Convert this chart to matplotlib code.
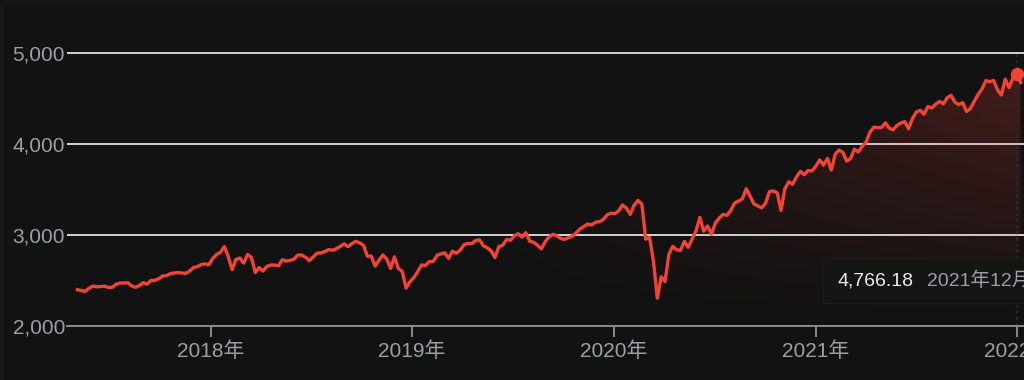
import numpy as np
import pandas as pd
import matplotlib
matplotlib.use('Agg')
import matplotlib.pyplot as plt
import matplotlib.dates as mdates
from matplotlib.colors import to_rgb
from matplotlib.patches import Rectangle
from matplotlib.ticker import FuncFormatter

plt.rcParams['font.family'] = ['Liberation Sans', 'Noto Sans CJK SC', 'DejaVu Sans']

# weekly closes, first friday 2017-05-05
start_date = '2017-05-05'
closes_2017 = [2399, 2390, 2381, 2415, 2439, 2431, 2433, 2438, 2423,
               2425, 2459, 2472, 2472, 2476, 2441, 2425, 2443,
               2476, 2461, 2500, 2502, 2519, 2549, 2553, 2575, 2581,
               2588, 2582, 2579, 2602, 2642, 2652, 2675, 2683, 2674]
closes_2018 = [2743, 2786, 2810, 2873, 2762, 2620, 2732, 2747,
               2691, 2786, 2752, 2588, 2641, 2604, 2656, 2670, 2670,
               2663, 2728, 2713, 2721, 2735, 2779, 2780, 2755, 2718,
               2760, 2801, 2802, 2819, 2840, 2833, 2850, 2875, 2902,
               2872, 2905, 2930, 2914, 2885, 2767, 2768, 2658,
               2723, 2781, 2736, 2633, 2760, 2633, 2600, 2417, 2486]
closes_2019 = [2532, 2596, 2671, 2665, 2707, 2708, 2776, 2793,
               2804, 2743, 2822, 2800, 2834, 2893, 2907, 2905, 2940,
               2946, 2881, 2860, 2826, 2752, 2873, 2887, 2950, 2942,
               2990, 3014, 2977, 3026, 2932, 2919, 2889, 2847, 2926,
               2979, 3007, 2992, 2962, 2952, 2970, 2986, 3023,
               3067, 3093, 3120, 3110, 3141, 3146, 3169, 3221, 3240]
closes_2020 = [3235, 3265, 3330, 3295, 3226, 3328, 3380, 3338, 2954,
               2972, 2711, 2305, 2541, 2489, 2790, 2875, 2837,
               2831, 2930, 2864, 2955, 3044, 3194, 3041, 3098, 3009,
               3130, 3185, 3225, 3216, 3271, 3351, 3373, 3397, 3508,
               3427, 3341, 3319, 3298, 3348, 3477, 3484, 3465, 3270,
               3509, 3585, 3558, 3638, 3699, 3663, 3709, 3703, 3756]
closes_2021 = [3825, 3768, 3841, 3714, 3887, 3934, 3907, 3811,
               3842, 3943, 3913, 3975, 4020, 4129, 4185, 4180, 4181,
               4233, 4174, 4156, 4204, 4230, 4247, 4167, 4281,
               4352, 4370, 4327, 4412, 4395, 4437, 4468, 4442, 4509,
               4535, 4459, 4433, 4455, 4357, 4391, 4471, 4545, 4605,
               4697, 4683, 4698, 4595, 4538, 4712, 4620, 4726, 4766]
closes_2022 = [4677]

last_value = 4766.18
last_date = '2021-12-31'
tooltip_value = '4,766.18'
tooltip_date = '2021年12月31日'
years = [2018, 2019, 2020, 2021, 2022]
y_ticks = [2000, 3000, 4000, 5000]

closes = closes_2017 + closes_2018 + closes_2019 + closes_2020 + closes_2021 + closes_2022
dates = pd.date_range(start_date, periods=len(closes), freq='W-FRI')

bg = '#121212'
red = '#f44336'
grid_c = '#d4d4d4'
gray = '#9aa0a6'

W, H = 1024, 380
fig = plt.figure(figsize=(W / 100, H / 100), dpi=100, facecolor=bg)
fig.patches.append(Rectangle((0, 0), 3 / W, 1, transform=fig.transFigure, color='#181818', zorder=0))
fig.patches.append(Rectangle((0, 1 - 5 / H), 1, 5 / H, transform=fig.transFigure, color='#161616', zorder=0))

ax = fig.add_axes([67 / W, 54 / H, 957 / W, 326 / H])
ax.set_facecolor('none')
x = mdates.date2num(dates)
xlo = mdates.date2num(pd.Timestamp('2017-04-16'))
xhi = mdates.date2num(pd.Timestamp('2022-01-13'))

# gradient fill under the line
nx, ny = 400, 200
xs = np.linspace(xlo, xhi, nx)
g0 = mdates.date2num(pd.Timestamp('2019-01-01'))
g1 = mdates.date2num(pd.Timestamp('2022-01-01'))
h = np.clip((xs - g0) / (g1 - g0), 0, 1)
ys = np.linspace(2000, 5000, ny)
v = np.clip((ys - 2000) / 2800, 0, 1)
rgba = np.zeros((ny, nx, 4))
rgba[..., :3] = to_rgb(red)
rgba[..., 3] = np.clip(0.22 * np.outer(v, h), 0, 1)
im = ax.imshow(rgba, extent=[xlo, xhi, 2000, 5000], origin='lower',
               aspect='auto', zorder=1, interpolation='bilinear')
poly = ax.fill_between(x, closes, 2000, color='none', lw=0)
im.set_clip_path(poly.get_paths()[0], transform=ax.transData)

ax.plot(x, closes, color=red, lw=2.4, zorder=3, solid_joinstyle='round')

xd = mdates.date2num(pd.Timestamp(last_date))
ax.plot([xd, xd], [2000, 5000], ls=(0, (2, 2)), color='#2c2c2c', lw=1.1, zorder=2)
ax.plot([xd], [last_value], 'o', ms=8.6, color=red, zorder=4)

ax.set_xlim(xlo, xhi)
ax.set_ylim(2000, 2000 + 326 / 91 * 1000)

ax.set_yticks(y_ticks)
ax.yaxis.set_major_formatter(FuncFormatter(lambda val, p: f'{int(val):,}'))
ax.grid(axis='y', color=grid_c, lw=1.4, zorder=0.5)
ax.set_axisbelow(True)
ax.tick_params(axis='y', length=0, pad=1.5, labelsize=15, labelcolor=gray)

ax.set_xticks([mdates.date2num(pd.Timestamp(f'{y}-01-01')) for y in years])
ax.set_xticklabels([f'{y}年' for y in years])
ax.tick_params(axis='x', length=8, width=1.4, color='#8a8a8a', pad=3,
               labelsize=15, labelcolor=gray)

for s in ['top', 'right', 'left']:
    ax.spines[s].set_visible(False)
ax.spines['bottom'].set_color('#8a8a8a')
ax.spines['bottom'].set_linewidth(1.4)
ax.spines['bottom'].set_zorder(2.5)

# tooltip
fig.patches.append(Rectangle((823 / W, 1 - 303 / H), 220 / W, 45 / H,
                             transform=fig.transFigure, fc='#151515',
                             ec='#1b1b1b', lw=1, zorder=5))
fig.text(838 / W, 1 - 281 / H, tooltip_value, color='#e8eaed', fontsize=14,
         va='center', zorder=6)
fig.text(927 / W, 1 - 281 / H, tooltip_date, color=gray, fontsize=14,
         va='center', zorder=6)

fig.savefig('out.png', dpi=100, facecolor=bg)
